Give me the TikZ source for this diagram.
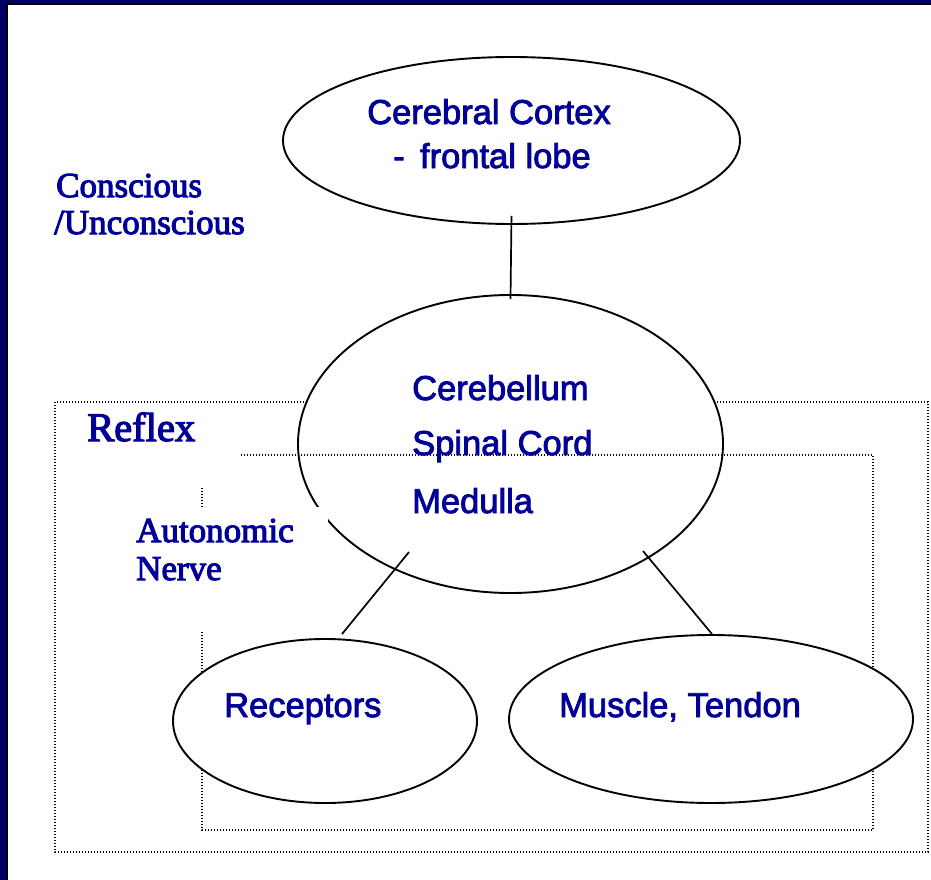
\documentclass[tikz,border=0pt]{standalone}
\usepackage{fontspec}
\setmainfont[FakeBold=3]{Liberation Serif}
\newfontfamily\labelsans[FakeBold=2.5]{Liberation Sans}
\usetikzlibrary{shapes.geometric,calc}
\definecolor{navyframe}{RGB}{0,0,102}
\definecolor{labelblue}{RGB}{0,0,153}

\begin{document}
\begin{tikzpicture}[x=1pt,y=-1pt,
  organ/.style={ellipse,draw=black,line width=1.9pt,fill=white,inner sep=0pt},
  zone/.style={draw=black,line width=1.2pt,dash pattern=on 1.2pt off 1.8pt},
  link/.style={draw=black,line width=1.7pt},
  sanslab/.style={text=labelblue,font=\labelsans\fontsize{34.5}{40}\selectfont,inner sep=0pt,anchor=base west},
  seriflab/.style={text=labelblue,font=\fontsize{35}{40}\selectfont,inner sep=0pt,anchor=base west},
]
\useasboundingbox (0,0) rectangle (931,880);
\fill[white] (0,0) rectangle (931,880);

% slide frame: navy strips on the top and left edges
\fill[navyframe] (0,0) rectangle (931,3.5);
\fill[navyframe] (0,0) rectangle (6.5,880);
\draw[line width=1.2pt] (7,880) -- (7,4) -- (931,4);

% outer dotted zone (reflex)
\draw[zone] (55,402) rectangle (928,852);

% brain levels
\node[organ,minimum width=457pt,minimum height=167pt] (cortex) at (511.5,140.5) {};
\node[organ,minimum width=425pt,minimum height=298pt] (cns) at (510.5,444) {};

% inner dotted zone (autonomic nerve)
\draw[zone] (202,455) rectangle (873,830);

% periphery
\node[organ,minimum width=304pt,minimum height=164pt] (recep) at (325,721) {};
\node[organ,minimum width=404pt,minimum height=168pt] (muscle) at (711,719) {};

% white label backgrounds
\fill[white] (60,406) rectangle (241,486);
\fill[white] (130,507) rectangle (328,630);

% connectors
\draw[link] ($(cortex.south)+(0,-9)$) -- ($(cns.north)+(0,5)$);
\coordinate (cnsL) at ($(cns.center)+(-101.5,108)$);
\coordinate (recT) at ($(recep.north)+(17,-4)$);
\coordinate (cnsR) at ($(cns.center)+(132.5,107)$);
\coordinate (musT) at ($(muscle.north)+(1,0)$);
\draw[link] (cnsL) -- (recT);
\draw[link] (cnsR) -- (musT);

% labels inside the ellipses
\node[sanslab,anchor=base] (cortexA) at (489,124) {Cerebral Cortex};
\node[sanslab,anchor=base] (cortexB) at (492,168) {-\,\ frontal lobe};
\node[sanslab] (cnsA) at (412,400) {Cerebellum};
\node[sanslab] (cnsB) at (412,455) {Spinal Cord};
\node[sanslab] (cnsC) at (412,513) {Medulla};
\node[sanslab] (recepT) at (224,717) {Receptors};
\node[sanslab] (muscleT) at (559,717) {Muscle, Tendon};

% side labels
\node[seriflab] (consA) at (56,197) {Conscious};
\node[seriflab] (consB) at (54,234) {/Unconscious};
\node[seriflab,font=\fontsize{40.5}{44}\selectfont] (reflexT) at (87,441) {Reflex};
\node[seriflab] (autoA) at (136,542) {Autonomic};
\node[seriflab] (autoB) at (136,580) {Nerve};
\end{tikzpicture}
\end{document}
